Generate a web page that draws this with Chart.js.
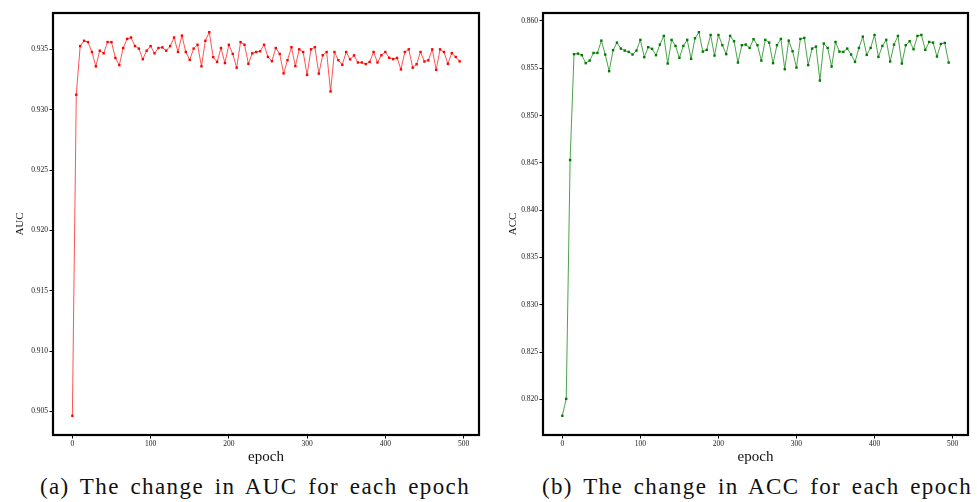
<!DOCTYPE html>
<html>
<head>
<meta charset="utf-8">
<script src="https://cdn.jsdelivr.net/npm/chart.js@4.4.1/dist/chart.umd.min.js"></script>
<style>
    body { margin: 0; background: #fff; }
    #wrap { position: relative; width: 977px; height: 502px; overflow: hidden; }
    canvas { position: absolute; top: 0; }
    #aucChart { left: 0; }
    #accChart { left: 490px; }
    .caption {
        position: absolute;
        top: 474px;
        font-family: "Liberation Serif", "Times New Roman", serif;
        font-size: 23px;
        letter-spacing: 1.4px;
        word-spacing: 3.5px;
        color: #111;
        white-space: nowrap;
        text-align: center;
    }
    #capA { left: 30px; width: 450px; }
    #capB { left: 532px; width: 450px; }
</style>
</head>
<body>
<div id="wrap">
    <canvas id="aucChart" width="488" height="470"></canvas>
    <canvas id="accChart" width="487" height="470"></canvas>
    <div class="caption" id="capA">(a) The change in AUC for each epoch</div>
    <div class="caption" id="capB">(b) The change in ACC for each epoch</div>
</div>
<script>
// epochs (sampled every 5)
const epochs = [
    0, 5, 10, 15, 20, 25, 30, 35, 40, 45, 50, 55, 60, 65, 70, 75, 80, 85, 90, 95,
    100, 105, 110, 115, 120, 125, 130, 135, 140, 145, 150, 155, 160, 165, 170, 175, 180, 185, 190, 195,
    200, 205, 210, 215, 220, 225, 230, 235, 240, 245, 250, 255, 260, 265, 270, 275, 280, 285, 290, 295,
    300, 305, 310, 315, 320, 325, 330, 335, 340, 345, 350, 355, 360, 365, 370, 375, 380, 385, 390, 395,
    400, 405, 410, 415, 420, 425, 430, 435, 440, 445, 450, 455, 460, 465, 470, 475, 480, 485, 490, 495
];

const aucValues = [
    0.90464, 0.93124, 0.93527, 0.93571, 0.93560, 0.93478, 0.93359, 0.93489, 0.93467, 0.93560,
    0.93560, 0.93429, 0.93369, 0.93511, 0.93587, 0.93598, 0.93527, 0.93506, 0.93418, 0.93489,
    0.93527, 0.93467, 0.93511, 0.93516, 0.93489, 0.93527, 0.93598, 0.93478, 0.93614, 0.93478,
    0.93413, 0.93506, 0.93538, 0.93359, 0.93571, 0.93642, 0.93435, 0.93396, 0.93511, 0.93386,
    0.93538, 0.93462, 0.93348, 0.93560, 0.93538, 0.93380, 0.93467, 0.93478, 0.93484, 0.93538,
    0.93437, 0.93402, 0.93511, 0.93462, 0.93301, 0.93410, 0.93518, 0.93361, 0.93500, 0.93478,
    0.93288, 0.93500, 0.93518, 0.93299, 0.93451, 0.93478, 0.93151, 0.93478, 0.93410, 0.93372,
    0.93478, 0.93417, 0.93450, 0.93391, 0.93391, 0.93378, 0.93396, 0.93478, 0.93391, 0.93451,
    0.93478, 0.93430, 0.93419, 0.93429, 0.93334, 0.93478, 0.93500, 0.93348, 0.93377, 0.93478,
    0.93399, 0.93409, 0.93500, 0.93330, 0.93500, 0.93478, 0.93380, 0.93468, 0.93437, 0.93400
];

const accValues = [
    0.81827, 0.82006, 0.84530, 0.85649, 0.85655, 0.85638, 0.85554, 0.85581, 0.85662, 0.85662,
    0.85792, 0.85645, 0.85469, 0.85691, 0.85771, 0.85708, 0.85687, 0.85673, 0.85645, 0.85687,
    0.85800, 0.85617, 0.85723, 0.85705, 0.85638, 0.85750, 0.85842, 0.85550, 0.85800, 0.85736,
    0.85610, 0.85736, 0.85800, 0.85599, 0.85817, 0.85881, 0.85676, 0.85694, 0.85852, 0.85634,
    0.85852, 0.85744, 0.85649, 0.85842, 0.85786, 0.85560, 0.85744, 0.85750, 0.85715, 0.85807,
    0.85744, 0.85581, 0.85800, 0.85771, 0.85554, 0.85744, 0.85810, 0.85490, 0.85792, 0.85680,
    0.85507, 0.85810, 0.85821, 0.85533, 0.85708, 0.85729, 0.85370, 0.85761, 0.85715, 0.85518,
    0.85778, 0.85676, 0.85673, 0.85708, 0.85645, 0.85567, 0.85715, 0.85834, 0.85641, 0.85715,
    0.85852, 0.85620, 0.85736, 0.85800, 0.85571, 0.85750, 0.85842, 0.85550, 0.85744, 0.85786,
    0.85701, 0.85842, 0.85852, 0.85694, 0.85778, 0.85771, 0.85624, 0.85757, 0.85768, 0.85560
];

// tick labels
const epochTicks = [0, 100, 200, 300, 400, 500];
const aucTicks = [0.905, 0.910, 0.915, 0.920, 0.925, 0.930, 0.935];
const accTicks = [0.820, 0.825, 0.830, 0.835, 0.840, 0.845, 0.850, 0.855, 0.860];

const serif = "'Liberation Serif', 'Times New Roman', serif";

/* =========================
   frame around plot area
========================= */
const framePlugin = {
    id: "frame",
    afterDraw(chart) {
        const a = chart.chartArea;
        const ctx = chart.ctx;
        ctx.save();
        ctx.strokeStyle = "#000";
        ctx.lineWidth = 2.2;
        ctx.strokeRect(a.left, a.top, a.right - a.left, a.bottom - a.top);
        ctx.restore();
    }
};

function makeChart(id, values, yTicks, yLabel, yMin, yMax, lineColor, pointColor, titlePad) {
    const ctx = document.getElementById(id).getContext("2d");

    return new Chart(ctx, {
        type: "line",
        data: {
            datasets: [{
                data: epochs.map((e, i) => ({ x: e, y: values[i] })),
                borderColor: lineColor,
                borderWidth: 1,
                pointStyle: "rect",
                pointRadius: 1.7,
                pointBackgroundColor: pointColor,
                pointBorderWidth: 0,
                tension: 0,
                fill: false
            }]
        },
        options: {
            responsive: false,
            animation: false,
            layout: { padding: { top: 13, right: 9, left: 0, bottom: 0 } },
            plugins: {
                legend: { display: false },
                tooltip: { enabled: false }
            },
            scales: {
                x: {
                    type: "linear",
                    min: -24.75,
                    max: 519.75,
                    afterBuildTicks: s => { s.ticks = epochTicks.map(v => ({ value: v })); },
                    afterFit: s => { s.height = 35; },
                    grid: { drawOnChartArea: false, tickLength: 3.5, tickColor: "#000", tickWidth: 1 },
                    border: { display: false },
                    ticks: {
                        padding: 1,
                        color: "#222",
                        font: { family: serif, size: 7.5 },
                        maxRotation: 0
                    },
                    title: {
                        display: true,
                        text: "epoch",
                        color: "#111",
                        font: { family: serif, size: 15 },
                        padding: { top: 0, bottom: 4 }
                    }
                },
                y: {
                    min: yMin,
                    max: yMax,
                    afterBuildTicks: s => { s.ticks = yTicks.map(v => ({ value: v })); },
                    afterFit: s => { s.width = 53; },
                    grid: { drawOnChartArea: false, tickLength: 3.5, tickColor: "#000", tickWidth: 1 },
                    border: { display: false },
                    ticks: {
                        padding: 1.5,
                        color: "#222",
                        font: { family: serif, size: 7.5 },
                        callback: v => v.toFixed(3)
                    },
                    title: {
                        display: true,
                        text: yLabel,
                        color: "#111",
                        font: { family: serif, size: 11 },
                        padding: { top: titlePad, bottom: 0 }
                    }
                }
            }
        },
        plugins: [framePlugin]
    });
}

/* =========================
   AUC (left) and ACC (right)
========================= */
makeChart("aucChart", aucValues, aucTicks, "AUC", 0.90305, 0.93801,
    "rgba(255,40,40,0.8)", "#ff0000", 13.4);

makeChart("accChart", accValues, accTicks, "ACC", 0.81624, 0.86084,
    "rgba(30,140,30,0.8)", "#007a00", 16.4);
</script>
</body>
</html>
